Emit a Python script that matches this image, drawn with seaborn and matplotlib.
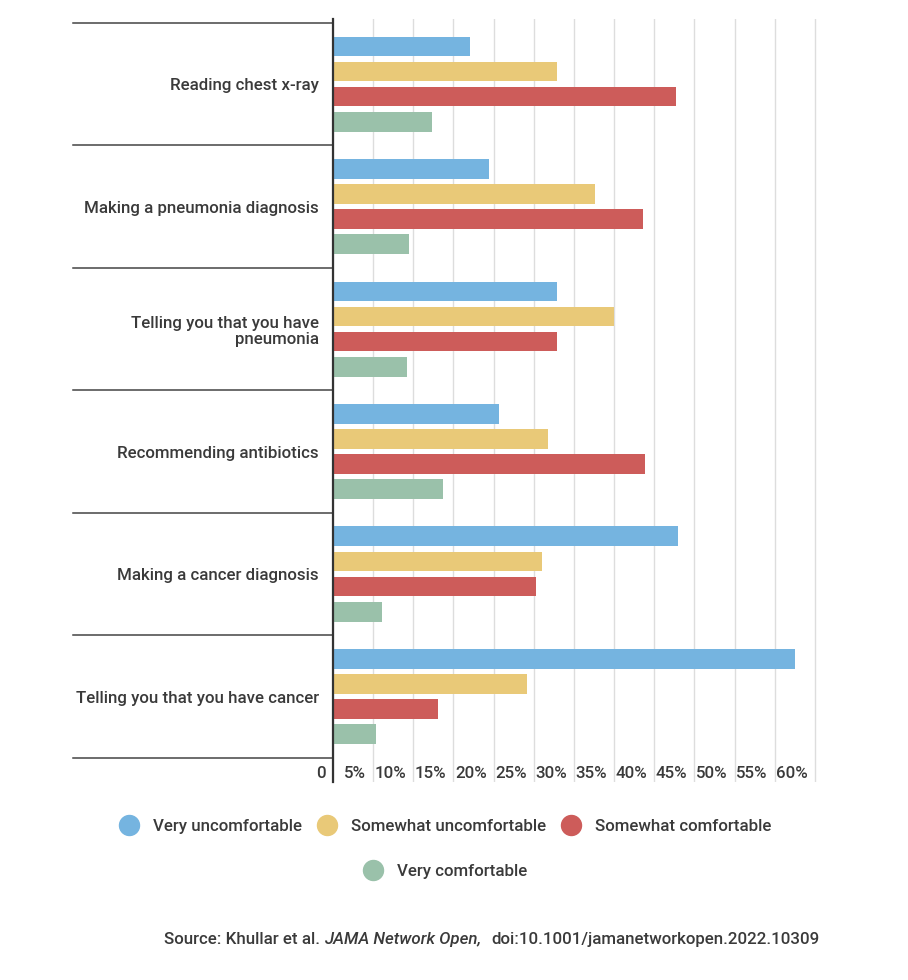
import numpy as np
import pandas as pd
import matplotlib
matplotlib.use("Agg")
import matplotlib.pyplot as plt
import seaborn as sns
from matplotlib.transforms import ScaledTranslation, blended_transform_factory
from matplotlib.lines import Line2D

categories = [
    "Reading chest x-ray",
    "Making a pneumonia diagnosis",
    "Telling you that you have\npneumonia",
    "Recommending antibiotics",
    "Making a cancer diagnosis",
    "Telling you that you have cancer",
]
series = ["Very uncomfortable", "Somewhat uncomfortable", "Somewhat comfortable", "Very comfortable"]
very_uncomfortable = [17.1, 19.4, 27.9, 20.7, 42.9, 57.5]
somewhat_uncomfortable = [27.9, 32.6, 35.0, 26.8, 26.0, 24.2]
somewhat_comfortable = [42.7, 38.6, 27.9, 38.8, 25.3, 13.1]
very_comfortable = [12.3, 9.5, 9.2, 13.7, 6.1, 5.4]
colors = ["#75B4E0", "#E9C978", "#CD5C5A", "#9AC1AA"]
xticks = list(range(0, 61, 5))
xtick_labels = ["0"] + [f"{t}%" for t in xticks[1:]]

values = [very_uncomfortable, somewhat_uncomfortable, somewhat_comfortable, very_comfortable]
rows = []
for s, vals in zip(series, values):
    for c, v in zip(categories, vals):
        rows.append({"category": c, "series": s, "value": v})
df = pd.DataFrame(rows)

plt.rcParams["font.family"] = ["Roboto", "DejaVu Sans"]
plt.rcParams["font.weight"] = "medium"
TXT = "#3A3A3A"
FS = 12.2

W, H = 908, 980
fig = plt.figure(figsize=(W / 100, H / 100), dpi=100)
ax_l, ax_r, ax_t, ax_b = 333, 819, 19, 782
ax = fig.add_axes([ax_l / W, 1 - ax_b / H, (ax_r - ax_l) / W, (ax_b - ax_t) / H])

sns.barplot(data=df, x="value", y="category", hue="series", order=categories,
            hue_order=series, palette=colors, orient="h", width=0.82, gap=0.215,
            saturation=1, linewidth=0, legend=False, ax=ax, zorder=3)

ax.set_xlim(0, 60.5)
ax.set_ylim(5.698, -0.531)
ax.set_xlabel("")
ax.set_ylabel("")

for sp in ["top", "right", "bottom"]:
    ax.spines[sp].set_visible(False)
ax.spines["left"].set_color("#333333")
ax.spines["left"].set_linewidth(1.6)
ax.spines["left"].set_zorder(5)

ax.set_xticks(xticks)
ax.set_xticklabels(xtick_labels)
ax.grid(axis="x", color="#DDDDDD", linewidth=1.0, zorder=0)
ax.set_axisbelow(True)
ax.tick_params(axis="x", length=0, pad=-11.5, labelsize=FS, labelcolor=TXT)
off = ScaledTranslation(-7 / 100, 0, fig.dpi_scale_trans)
for lab in ax.get_xticklabels():
    lab.set_horizontalalignment("right")
    lab.set_fontweight("medium")
    lab.set_transform(lab.get_transform() + off)

ax.tick_params(axis="y", length=0, pad=10, labelsize=FS, labelcolor=TXT)
for lab in ax.get_yticklabels():
    lab.set_linespacing(1.15)
    lab.set_fontweight("medium")

trans = blended_transform_factory(ax.transAxes, ax.transData)
x0 = (73 - ax_l) / (ax_r - ax_l)
for y in np.arange(-0.5, len(categories), 1.0):
    ax.plot([x0, 0], [y, y], transform=trans, clip_on=False, color="#444444", lw=1.1, zorder=4)

def handles(idx):
    return [Line2D([0], [0], marker="o", linestyle="none", markersize=14.4,
                   markerfacecolor=colors[i], markeredgecolor=colors[i]) for i in idx]

leg_kw = dict(frameon=False, prop={"size": FS, "weight": "medium"}, handlelength=1.17,
              handletextpad=0.82, columnspacing=0.9, borderpad=0, borderaxespad=0,
              labelcolor=TXT)
leg1 = fig.legend(handles([0, 1, 2]), series[:3], loc="center", ncol=3,
                  bbox_to_anchor=(445 / W, 1 - 826 / H), **leg_kw)
leg2 = fig.legend(handles([3]), series[3:], loc="center", ncol=1,
                  bbox_to_anchor=(445 / W, 1 - 871 / H), **leg_kw)

# Source line
fig.canvas.draw()
r = fig.canvas.get_renderer()
y_src = 1 - 939 / H
t1 = fig.text(164 / W, y_src, "Source: Khullar et al. ", fontsize=FS, color=TXT, va="center",
              ha="left", fontweight="medium")
bb = t1.get_window_extent(r)
t2 = fig.text(bb.x1 / W, y_src, "JAMA Network Open,", fontsize=FS, color=TXT, va="center",
              ha="left", style="italic", fontweight="medium")
bb2 = t2.get_window_extent(r)
t3 = fig.text((bb2.x1 + 10) / W, y_src, "doi:10.1001/jamanetworkopen.2022.10309", fontsize=FS,
              color=TXT, va="center", ha="left", fontweight="medium")

fig.savefig("out.png", dpi=100, facecolor="white")
